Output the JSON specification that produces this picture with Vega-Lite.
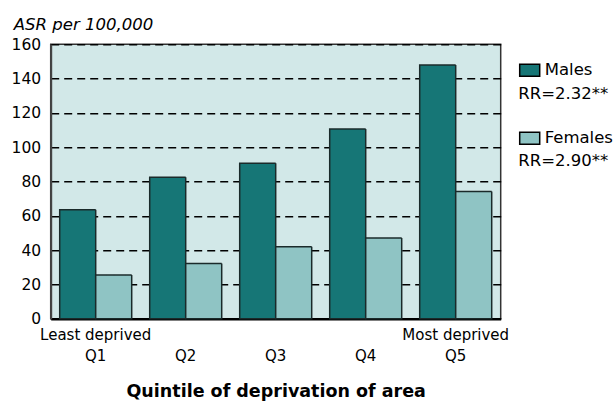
{
  "$schema": "https://vega.github.io/schema/vega-lite/v6.json",
  "width": 450,
  "height": 274.4,
  "autosize": {"type": "none"},
  "padding": {"left": 50.7, "top": 44.3, "right": 115.3, "bottom": 82.3},
  "background": "white",
  "config": {
    "view": {"fill": "#d2e8e8", "stroke": "#333333", "strokeWidth": 1.5},
    "font": "DejaVu Sans"
  },
  "data": {
    "values": [
      {"quintile": "Q1", "sex": "Males", "rr": "RR=2.32**", "asr": 63.6},
      {"quintile": "Q1", "sex": "Females", "rr": "RR=2.90**", "asr": 25.5},
      {"quintile": "Q2", "sex": "Males", "rr": "RR=2.32**", "asr": 82.5},
      {"quintile": "Q2", "sex": "Females", "rr": "RR=2.90**", "asr": 32.2},
      {"quintile": "Q3", "sex": "Males", "rr": "RR=2.32**", "asr": 90.6},
      {"quintile": "Q3", "sex": "Females", "rr": "RR=2.90**", "asr": 42.0},
      {"quintile": "Q4", "sex": "Males", "rr": "RR=2.32**", "asr": 110.6},
      {"quintile": "Q4", "sex": "Females", "rr": "RR=2.90**", "asr": 47.0},
      {"quintile": "Q5", "sex": "Males", "rr": "RR=2.32**", "asr": 148.0},
      {"quintile": "Q5", "sex": "Females", "rr": "RR=2.90**", "asr": 74.2}
    ]
  },
  "mark": {"type": "bar", "stroke": "#1a2a2a", "strokeWidth": 1.5},
  "encoding": {
    "x": {
      "field": "quintile",
      "type": "nominal",
      "scale": {"paddingInner": 0.2, "paddingOuter": 0.1},
      "axis": {
        "labelAngle": 0,
        "labelFont": "DejaVu Sans",
        "labelFontSize": 15,
        "labelColor": "black",
        "labelLineHeight": 21.3,
        "labelPadding": 9,
        "labelBaseline": "top",
        "labelExpr": "datum.value == 'Q1' ? ['Least deprived', 'Q1'] : datum.value == 'Q5' ? ['Most deprived', 'Q5'] : ['\u00a0', datum.value]",
        "ticks": false,
        "domainColor": "black",
        "domainWidth": 2.5,
        "title": "Quintile of deprivation of area",
        "titleFont": "DejaVu Sans",
        "titleFontSize": 17.5,
        "titleFontWeight": "bold",
        "titleColor": "black",
        "titleBaseline": "alphabetic",
        "titleY": 78
      }
    },
    "xOffset": {"field": "sex", "type": "nominal", "sort": ["Males", "Females"], "scale": {"paddingInner": 0, "paddingOuter": 0}},
    "y": {
      "field": "asr",
      "type": "quantitative",
      "scale": {"domain": [0, 160], "nice": false},
      "axis": {
        "values": [0, 20, 40, 60, 80, 100, 120, 140, 160],
        "labelFont": "DejaVu Sans",
        "labelFontSize": 15.5,
        "labelColor": "black",
        "labelPadding": 10,
        "ticks": false,
        "domainColor": "#444444",
        "domainWidth": 2,
        "grid": true,
        "gridColor": "black",
        "gridDash": [8, 5],
        "gridWidth": 1.5,
        "gridOpacity": 1,
        "title": "ASR per 100,000",
        "titleAngle": 0,
        "titleAlign": "left",
        "titleBaseline": "alphabetic",
        "titleX": -37.4,
        "titleY": -15,
        "titleFont": "DejaVu Sans",
        "titleFontSize": 16.5,
        "titleFontStyle": "italic",
        "titleFontWeight": "normal",
        "titleColor": "black"
      }
    },
    "fill": {
      "field": "sex",
      "type": "nominal",
      "sort": ["Males", "Females"],
      "scale": {"domain": ["Males", "Females"], "range": ["#167676", "#8fc4c4"]},
      "legend": {
        "orient": "none",
        "legendX": 468,
        "legendY": 15,
        "padding": 0,
        "title": null,
        "labelFont": "DejaVu Sans",
        "labelFontSize": 16.5,
        "labelColor": "black",
        "labelLimit": 0,
        "labelOffset": 4,
        "rowPadding": 48,
        "symbolType": "M-1,-0.6H1V0.6H-1Z",
        "symbolSize": 400,
        "symbolStrokeColor": "black",
        "symbolStrokeWidth": 1.5,
        "symbolOpacity": 1
      }
    },
    "strokeDash": {
      "field": "rr",
      "type": "nominal",
      "scale": {"domain": ["RR=2.32**", "RR=2.90**"], "range": [[1, 0], [1, 0]]},
      "legend": {
        "orient": "none",
        "legendX": 468,
        "legendY": 41,
        "padding": 0,
        "title": null,
        "labelFont": "DejaVu Sans",
        "labelFontSize": 16.5,
        "labelColor": "black",
        "labelLimit": 0,
        "labelOffset": -17,
        "rowPadding": 50,
        "symbolType": "circle",
        "symbolSize": 1,
        "symbolOpacity": 0,
        "symbolStrokeWidth": 0
      }
    }
  }
}
